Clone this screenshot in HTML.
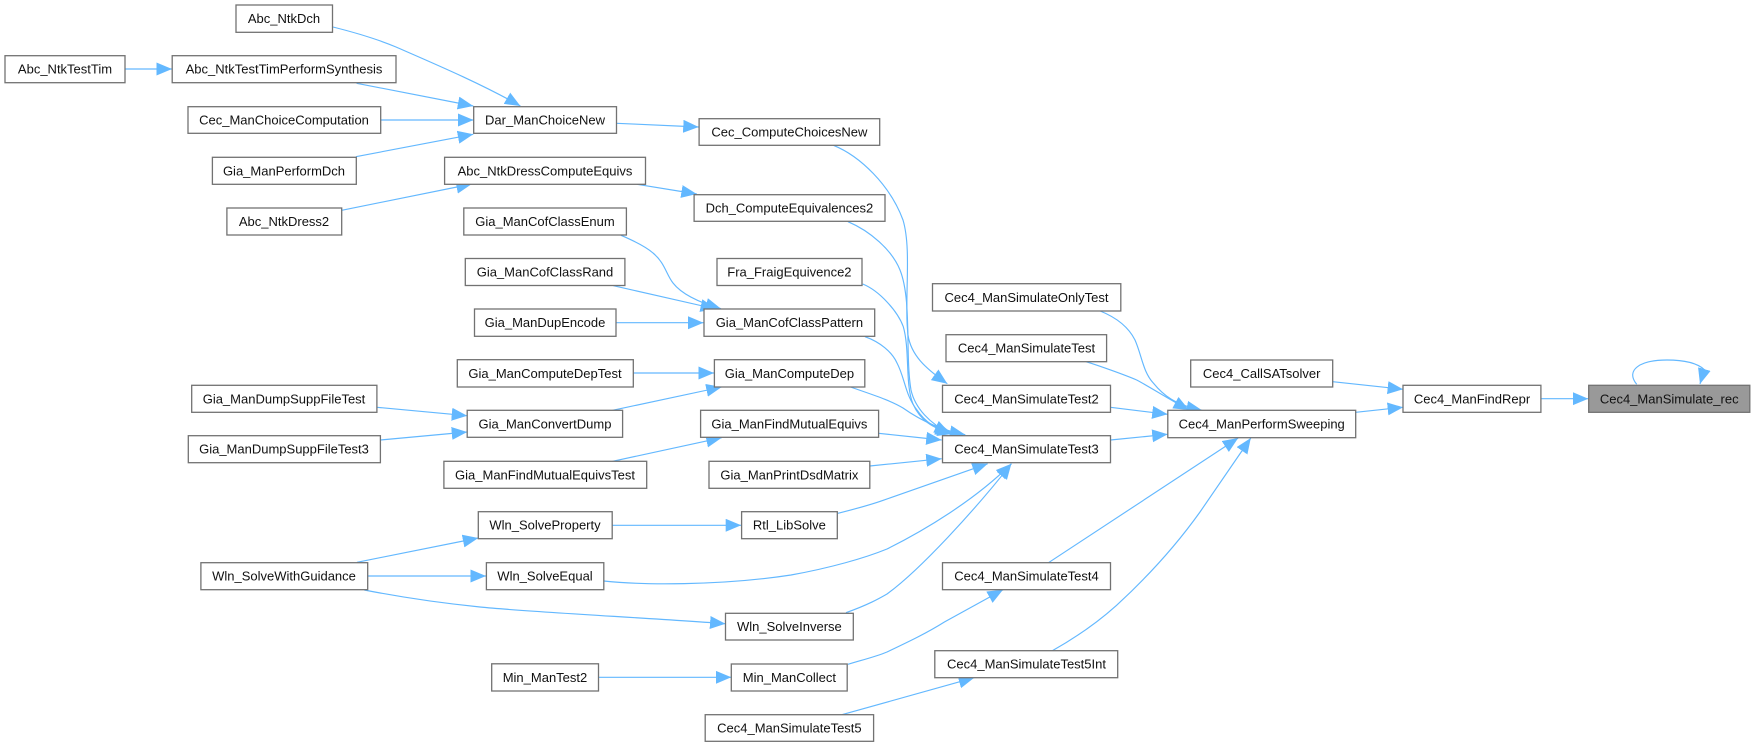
<!DOCTYPE html>
<html><head><meta charset="utf-8"><style>
html,body{margin:0;padding:0;background:#fff;width:1754px;height:747px;overflow:hidden}
svg{display:block;filter:blur(.3px)}
text{font-family:"Liberation Sans",Arial,sans-serif;font-size:13px;fill:#111;text-anchor:middle}
rect{fill:#fff;stroke:#727272;stroke-width:1.3}
path{fill:none;stroke:#63b8ff;stroke-width:1.15;marker-end:url(#a)}
</style></head><body>
<svg width="1754" height="747" viewBox="0 0 1754 747" xmlns="http://www.w3.org/2000/svg">
<defs><marker id="a" markerUnits="userSpaceOnUse" markerWidth="17" markerHeight="14" refX="15.5" refY="6.5" orient="auto"><polygon points="0,0 15.5,6.5 0,13" style="fill:#63b8ff"/></marker></defs>
<g>
<path d="M333,27 C353,32 377,39 396,47 C435,64 482,84 520.4,106"/>
<path d="M125,69 L172,69"/>
<path d="M356.6,83.3 L473.3,106"/>
<path d="M381,120 L473.5,120"/>
<path d="M355.9,156.7 L473.3,134.3"/>
<path d="M616.5,123.3 L698.7,127"/>
<path d="M341.7,210.3 L471.8,184"/>
<path d="M637.1,184.3 L696.8,194"/>
<path d="M621,235.3 C632,240 645,246 653,253 C665,263 666,274 673,283 C680,292 694,301 721,308.7"/>
<path d="M613.4,285.7 L716,309"/>
<path d="M616,322.7 L703.5,322.7"/>
<path d="M633.3,373 L714,373"/>
<path d="M612.6,410.3 L721.7,387"/>
<path d="M376.9,407.3 L467.2,415.7"/>
<path d="M380.4,440 L467.2,432"/>
<path d="M612.6,461.3 L721.7,437.7"/>
<path d="M357,562.3 L478.3,538"/>
<path d="M367.7,576 L486,576"/>
<path d="M364.3,590 C400,597 440,603 480,607 C530,612 650,618 725.5,623.7"/>
<path d="M612.2,525.3 L741.2,525.3"/>
<path d="M598.5,677.3 L731.3,677.3"/>
<path d="M833.4,145.3 C860,156 890,185 903,220 C912,250 904,300 908,335 C911,355 925,368 947.3,383.7"/>
<path d="M848,221.7 C870,231 892,250 900,270 C912,300 905,355 911,390 C915,408 930,424 950,433.3"/>
<path d="M862.7,284 C880,291 898,312 903.3,326.7 C910,350 905,385 913,404 C920,420 932,428 953,434"/>
<path d="M865,336.7 C880,342 892,352 897,363 C905,378 905,395 917,410 C925,422 935,428 951,434"/>
<path d="M850.6,387 C870,394 890,400 903,408 C920,420 940,430 965.3,434.7"/>
<path d="M878.6,433.3 L941.7,440"/>
<path d="M869.8,466 L941.7,458.7"/>
<path d="M838,513.3 C855,509 870,505 883.2,500.3 L987.7,463.7"/>
<path d="M603.8,581 C640,585 720,586 791,575 C830,568 865,558 887,549 C925,530 975,500 1011.4,463.7"/>
<path d="M846,612.7 C870,604 880,598 887,594 C920,570 975,510 1011.4,463.7"/>
<path d="M1110.5,407.3 L1167.7,414.3"/>
<path d="M1110.5,440 L1167.7,434.3"/>
<path d="M1048.5,562.7 L1238.2,438"/>
<path d="M1052.3,650.7 C1075,638 1098,622 1116.6,605.3 C1155,570 1180,540 1200,512 L1250.8,438"/>
<path d="M1100.2,311 C1120,319 1130,330 1135,340 C1142,356 1143,372 1153.3,383 C1163,395 1175,405 1202,410.3"/>
<path d="M1086,361.7 C1100,366 1125,375 1136.7,380 C1150,387 1165,397 1189,410"/>
<path d="M841.9,714.7 L974.2,677.7"/>
<path d="M848,664.3 C862,660 875,657 887,652 C908,642 927,633 944.4,622 L1003,589.7"/>
<path d="M1332.7,381.7 L1403.1,389.3"/>
<path d="M1355.7,412.3 L1403.1,407.3"/>
<path d="M1540.9,398.7 L1588.3,398.7"/>
<path d="M1636.7,384.3 C1625,370 1640,360 1667,360 C1683,360 1697,363 1704.2,369.5 L1700,384"/>
</g>
<g>
<rect x="236" y="5" width="96.5" height="27.3"/><text x="284" y="23">Abc_NtkDch</text>
<rect x="5" y="55.7" width="120" height="27"/><text x="65" y="73.7">Abc_NtkTestTim</text>
<rect x="172.2" y="55.7" width="223.8" height="27"/><text x="284" y="73.7">Abc_NtkTestTimPerformSynthesis</text>
<rect x="188" y="106.7" width="192.7" height="26.6"/><text x="284" y="124.5">Cec_ManChoiceComputation</text>
<rect x="473.7" y="106.7" width="142.8" height="26.6"/><text x="545" y="124.5">Dar_ManChoiceNew</text>
<rect x="212.4" y="157.3" width="143.9" height="27"/><text x="284" y="175.3">Gia_ManPerformDch</text>
<rect x="444.6" y="157.3" width="200.9" height="27"/><text x="545" y="175.3">Abc_NtkDressComputeEquivs</text>
<rect x="226.9" y="208" width="114.8" height="27"/><text x="284" y="226">Abc_NtkDress2</text>
<rect x="463.8" y="208" width="162.6" height="27"/><text x="545" y="226">Gia_ManCofClassEnum</text>
<rect x="465.3" y="258.5" width="159.6" height="27"/><text x="545" y="276.5">Gia_ManCofClassRand</text>
<rect x="474.5" y="309" width="141.5" height="27.3"/><text x="545" y="327.2">Gia_ManDupEncode</text>
<rect x="457.3" y="359.7" width="176" height="27.3"/><text x="545" y="377.8">Gia_ManComputeDepTest</text>
<rect x="191.7" y="385.3" width="185.2" height="27"/><text x="284" y="403.3">Gia_ManDumpSuppFileTest</text>
<rect x="467.2" y="410.3" width="155.4" height="27"/><text x="545" y="428.3">Gia_ManConvertDump</text>
<rect x="188.3" y="435.7" width="192.1" height="27"/><text x="284" y="453.7">Gia_ManDumpSuppFileTest3</text>
<rect x="443.9" y="461.3" width="202.8" height="27"/><text x="545" y="479.3">Gia_ManFindMutualEquivsTest</text>
<rect x="478.3" y="511.7" width="133.9" height="27"/><text x="545" y="529.7">Wln_SolveProperty</text>
<rect x="486.4" y="562.7" width="117.4" height="27"/><text x="545" y="580.7">Wln_SolveEqual</text>
<rect x="200.9" y="562.7" width="166.8" height="27"/><text x="284" y="580.7">Wln_SolveWithGuidance</text>
<rect x="491.7" y="663.8" width="106.8" height="27.2"/><text x="545" y="682">Min_ManTest2</text>
<rect x="699.1" y="118.7" width="180.6" height="26.6"/><text x="789.4" y="136.5">Cec_ComputeChoicesNew</text>
<rect x="694.1" y="194.7" width="190.9" height="26.6"/><text x="789.4" y="212.5">Dch_ComputeEquivalences2</text>
<rect x="717" y="258.5" width="145" height="27"/><text x="789.4" y="276.5">Fra_FraigEquivence2</text>
<rect x="704" y="309" width="170.7" height="27.3"/><text x="789.4" y="327.2">Gia_ManCofClassPattern</text>
<rect x="714.4" y="359.7" width="150.4" height="27.3"/><text x="789.4" y="377.8">Gia_ManComputeDep</text>
<rect x="700.6" y="410.3" width="178" height="27"/><text x="789.4" y="428.3">Gia_ManFindMutualEquivs</text>
<rect x="709" y="461.3" width="160.8" height="27"/><text x="789.4" y="479.3">Gia_ManPrintDsdMatrix</text>
<rect x="741.6" y="511.7" width="95.7" height="27"/><text x="789.4" y="529.7">Rtl_LibSolve</text>
<rect x="725.5" y="613.3" width="127.8" height="26.7"/><text x="789.4" y="631.2">Wln_SolveInverse</text>
<rect x="731.3" y="664" width="115.9" height="27"/><text x="789.4" y="682">Min_ManCollect</text>
<rect x="705.2" y="714.7" width="168.4" height="26.6"/><text x="789.4" y="732.5">Cec4_ManSimulateTest5</text>
<rect x="932.5" y="283.7" width="188.3" height="27.3"/><text x="1026.5" y="301.8">Cec4_ManSimulateOnlyTest</text>
<rect x="946" y="334.7" width="160.6" height="27"/><text x="1026.5" y="352.7">Cec4_ManSimulateTest</text>
<rect x="942.5" y="385.3" width="168" height="27"/><text x="1026.5" y="403.3">Cec4_ManSimulateTest2</text>
<rect x="942.5" y="435.7" width="168" height="27"/><text x="1026.5" y="453.7">Cec4_ManSimulateTest3</text>
<rect x="942.5" y="562.7" width="168" height="27"/><text x="1026.5" y="580.7">Cec4_ManSimulateTest4</text>
<rect x="934.8" y="650.7" width="182.9" height="27"/><text x="1026.5" y="668.7">Cec4_ManSimulateTest5Int</text>
<rect x="1190.7" y="360" width="142" height="27"/><text x="1261.7" y="378">Cec4_CallSATsolver</text>
<rect x="1167.8" y="410.3" width="187.9" height="27.4"/><text x="1261.7" y="428.5">Cec4_ManPerformSweeping</text>
<rect x="1403" y="385.3" width="137.9" height="27"/><text x="1472" y="403.3">Cec4_ManFindRepr</text>
<rect x="1588.7" y="385.3" width="161.1" height="27" style="fill:#999"/><text x="1669.2" y="403.3">Cec4_ManSimulate_rec</text>
</g>
</svg>
</body></html>
